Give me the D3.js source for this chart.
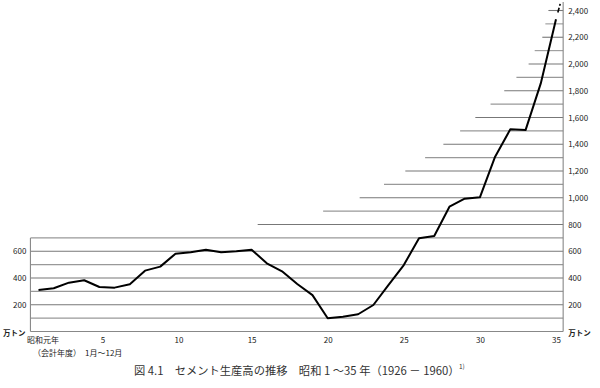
<!DOCTYPE html>
<html><head><meta charset="utf-8">
<script src="https://cdn.jsdelivr.net/npm/d3@7"></script>
<style>
body{margin:0;background:#fff;}
text{font-family:"Noto Sans CJK JP","Noto Sans",sans-serif;}
</style></head>
<body>
<svg id="c" width="600" height="388"></svg>
<script>
// 昭和 years (1..35)
const years = d3.range(1, 36);
// cement production, 万トン
const production = [310,323,365,383,333,328,353,455,485,582,592,612,592,600,612,510,450,355,272,99,111,129,198,348,497,697,714,933,993,1003,1307,1512,1506,1855,2334];
const xTickValues = [1,5,10,15,20,25,30,35];
const xTickLabels = ["昭和元年","5","10","15","20","25","30","35"];
const leftTicks = [200,400,600];
const rightTicks = [200,400,600,800,1000,1200,1400,1600,1800,2000,2200,2400];
const gridValues = d3.range(100, 2500, 100);
// year position where each gridline begins (values 800..2400); lower ones start at left axis
const gridStartYear = {800:15.4,900:19.7,1000:22.1,1100:23.7,1200:25.1,1300:26.4,1400:27.6,1500:28.7,1600:29.7,1700:30.7,1800:31.6,1900:32.4,2000:33.2,2100:33.6,2200:34.1,2300:34.3,2400:34.5};
const leftAxisYear = 0.47, rightAxisYear = 35.47;
const leftAxisMax = 700;

const svg = d3.select("#c");
const x = d3.scaleLinear().domain([1,35]).range([38.5,556]);
const y = d3.scaleLinear().domain([0,2400]).range([331.5,10.5]);
const xL = x(leftAxisYear), xR = x(rightAxisYear);

// gridlines
svg.append("g").selectAll("line").data(gridValues).join("line")
  .attr("x1", d => d <= leftAxisMax ? xL : x(gridStartYear[d]))
  .attr("x2", xR)
  .attr("y1", d => y(d)).attr("y2", d => y(d))
  .attr("stroke", d => d % 200 === 0 ? "#777" : "#999")
  .attr("stroke-width", 1.1);

// bottom baseline
svg.append("line").attr("x1", xL).attr("x2", xR).attr("y1", y(0)).attr("y2", y(0))
  .attr("stroke", "#888").attr("stroke-width", 1.1);

// left axis
const gL = svg.append("g").attr("transform", `translate(${xL},0)`)
  .call(d3.axisLeft(y).tickValues(leftTicks).tickSize(0).tickPadding(4).tickFormat(d3.format("d")));
gL.select(".domain").attr("d", `M0,${y(0)}V${y(leftAxisMax)}`).attr("stroke", "#888").attr("stroke-width", 1.1);
gL.selectAll("text").attr("font-size", 8).attr("fill", "#222");
svg.append("text").attr("x", 3).attr("y", y(0) + 4).attr("font-size", 7.5).attr("font-weight", "bold").attr("fill", "#222").text("万トン");

// right axis
const gR = svg.append("g").attr("transform", `translate(${xR},0)`)
  .call(d3.axisRight(y).tickValues(rightTicks).tickSize(0).tickPadding(5).tickFormat(d3.format(",")));
gR.select(".domain").attr("d", `M0,${y(0)}V2`).attr("stroke", "#888").attr("stroke-width", 1.1);
gR.selectAll("text").attr("font-size", 8).attr("fill", "#222");
svg.append("text").attr("x", xR + 5).attr("y", y(0) + 4).attr("font-size", 7.5).attr("font-weight", "bold").attr("fill", "#222").text("万トン");

// bottom axis labels
const gB = svg.append("g").attr("transform", `translate(0,${y(0)})`)
  .call(d3.axisBottom(x).tickValues(xTickValues).tickSize(0).tickPadding(6).tickFormat((d,i) => xTickLabels[i]));
gB.select(".domain").remove();
gB.selectAll("text").attr("font-size", 8).attr("fill", "#222")
  .attr("dx", d => d === 1 ? 4 : (d < 15 ? 3 : 0));
svg.append("text").attr("x", 33).attr("y", 356).attr("font-size", 8).attr("fill", "#222").text("（会計年度）");
svg.append("text").attr("x", 85).attr("y", 356).attr("font-size", 8).attr("fill", "#222").text("1月～12月");

// data line
const line = d3.line().x((d,i) => x(years[i])).y(d => y(d));
svg.append("path").datum(production).attr("d", line)
  .attr("fill", "none").attr("stroke", "#000").attr("stroke-width", 2).attr("stroke-linejoin", "round");
// dashed continuation beyond the top
svg.append("line")
  .attr("x1", x(35)).attr("y1", y(production[34]))
  .attr("x2", x(35.3)).attr("y2", y(2460))
  .attr("stroke", "#000").attr("stroke-width", 1.6).attr("stroke-dasharray", "0,7,5,2,2,10");

// caption
svg.append("text").attr("x", 134).attr("y", 375).attr("font-size", 11.3).attr("fill", "#333")
  .text("図 4.1　セメント生産高の推移　昭和 1 ～35 年（1926 － 1960）");
svg.append("text").attr("x", 459).attr("y", 369).attr("font-size", 6.5).attr("fill", "#333").text("1)");
</script>
</body></html>
